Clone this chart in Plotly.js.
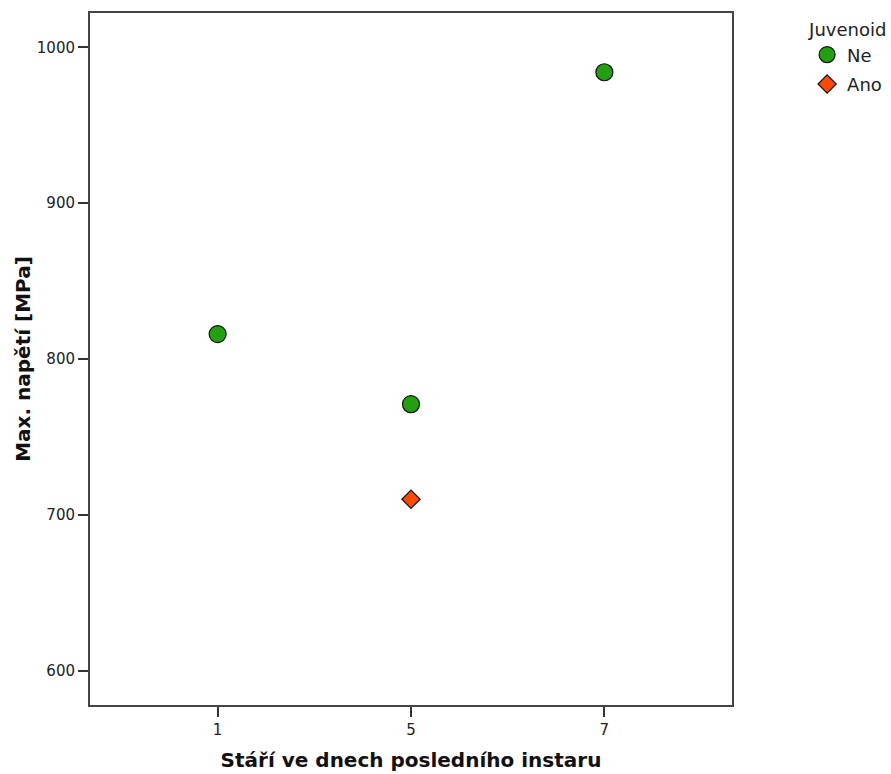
<!DOCTYPE html>
<html>
<head>
<meta charset="utf-8">
<script src="https://cdn.plot.ly/plotly-3.0.1.min.js"></script>
<style>
  html, body { margin: 0; padding: 0; background: #ffffff; }
  #chart { width: 891px; height: 774px; }
</style>
</head>
<body>
<div id="chart"></div>
<script>
// Age in days of the last instar (categorical axis)
const ageCategories = ['1', '5', '7'];

// Maximum stress [MPa], without juvenoid treatment
const neAge = ['1', '5', '7'];
const neStress = [816, 771, 984];

// Maximum stress [MPa], with juvenoid treatment
const anoAge = ['5'];
const anoStress = [710];

const traces = [
  {
    type: 'scatter',
    mode: 'markers',
    name: 'Ne',
    legendgroup: 'ne',
    x: neAge,
    y: neStress,
    marker: {
      symbol: 'circle',
      size: 17,
      color: '#22a010',
      line: { color: '#111111', width: 1.2 }
    }
  },
  {
    type: 'scatter',
    mode: 'markers',
    name: 'Ano',
    legendgroup: 'ano',
    x: anoAge,
    y: anoStress,
    marker: {
      symbol: 'diamond',
      size: 14,
      color: '#ff4a00',
      line: { color: '#111111', width: 1.2 }
    }
  }
];

const axisLine = { showline: true, linecolor: '#444444', linewidth: 2, mirror: true };
const titleFont = { family: 'DejaVu Sans, sans-serif', size: 20, color: '#111111', weight: 'bold' };

const layout = {
  width: 891,
  height: 774,
  margin: { l: 90, r: 159, t: 13, b: 69, autoexpand: false },
  paper_bgcolor: '#ffffff',
  plot_bgcolor: '#ffffff',
  font: { family: 'DejaVu Sans, sans-serif', size: 15, color: '#222222' },
  showlegend: true,
  legend: {
    title: { text: 'Juvenoid', font: { size: 18, color: '#222222' } },
    x: 1.117,
    xanchor: 'left',
    y: 1.0,
    yanchor: 'top',
    font: { size: 18, color: '#222222' },
    tracegroupgap: 3,
    itemwidth: 30
  },
  xaxis: Object.assign({
    type: 'category',
    categoryorder: 'array',
    categoryarray: ageCategories,
    range: [-0.66, 2.66],
    showgrid: false,
    zeroline: false,
    ticks: 'outside',
    ticklen: 10,
    tickwidth: 2,
    tickcolor: '#333333',
    tickfont: { size: 15, color: '#222222' },
    title: {
      text: 'Stáří ve dnech posledního instaru',
      font: titleFont,
      standoff: 15
    }
  }, axisLine),
  yaxis: Object.assign({
    range: [578, 1022],
    tickvals: [600, 700, 800, 900, 1000],
    showgrid: false,
    zeroline: false,
    ticks: 'outside',
    ticklen: 10,
    tickwidth: 2,
    tickcolor: '#333333',
    tickfont: { size: 15, color: '#222222' },
    title: {
      text: 'Max. napětí [MPa]',
      font: titleFont,
      standoff: 1
    }
  }, axisLine)
};

Plotly.newPlot('chart', traces, layout, { displayModeBar: false, staticPlot: true });
</script>
</body>
</html>
